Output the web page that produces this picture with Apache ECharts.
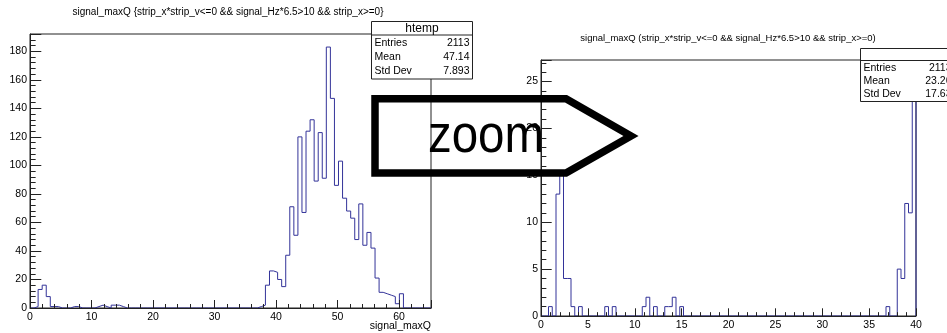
<!DOCTYPE html>
<html><head><meta charset="utf-8">
<script src="https://cdn.jsdelivr.net/npm/echarts@6/dist/echarts.min.js"></script>
<style>html,body{margin:0;padding:0;background:#fff}#c{width:947px;height:333px}</style>
</head><body><div id="c"></div>
<script>
// ---------- data ----------
const titleText = "signal_maxQ {strip_x*strip_v<=0 && signal_Hz*6.5>10 && strip_x>=0}";
const titleTextRight = "signal_maxQ (strip_x*strip_v<=0 && signal_Hz*6.5>10 && strip_x>=0)";
const xAxisTitle = "signal_maxQ";
const histName = "htemp";

// left histogram: 100 bins of width 0.66 starting at 0
const leftBinWidth = 0.66;
const leftCounts = [
  0,1,13,16,8,1,1,0,0,0,
  1,1,0,0,0,0,1,2,1,0,
  2,2,1,0,0,0,0,0,0,0,
  0,0,0,0,0,0,0,0,0,0,
  0,0,0,0,0,0,0,0,0,0,
  0,0,0,0,0,0,1,2,16,26,
  25,20,15,37,71,51,120,67,124,132,
  89,123,91,183,147,86,103,77,68,63,
  48,73,44,53,42,21,11,10,9,8,
  3,10,0,0,0,0,0,0,0,0
];
const leftStats = [["Entries","2113"],["Mean","47.14"],["Std Dev","7.893"]];

// right (zoomed) histogram: 100 bins of width 0.4 from 0 to 40
const rightBinWidth = 0.4;
const rightCounts = [
  0,0,1,0,13,15,4,4,1,0,
  1,0,0,0,0,0,0,1,0,1,
  0,0,0,0,0,0,0,1,2,0,
  1,0,0,1,1,2,0,1,0,0,
  0,0,0,0,0,0,0,0,0,0,
  0,0,0,0,0,0,0,0,0,0,
  0,0,0,0,0,0,0,0,0,0,
  0,0,0,0,0,0,0,0,0,0,
  0,0,0,0,0,0,0,0,0,0,
  0,0,1,0,0,5,4,12,11,26
];
const rightStats = [["Entries","2113"],["Mean","23.26"],["Std Dev","17.63"]];

const leftX = {min:0, max:65.2, interval:10};
const leftY = {min:0, max:192.15, interval:20};
const rightX = {min:0, max:40, interval:5};
const rightY = {min:0, max:27.3, interval:5};
const arrowLabel = "zoom";

// ---------- build ----------
function stepData(counts, w){
  const pts = [[0,0]];
  counts.forEach((c,i)=>{ pts.push([i*w,c]); pts.push([(i+1)*w,c]); });
  pts.push([counts.length*w,0]);
  return pts;
}
const FONT = "'Liberation Sans', Arial, Helvetica, sans-serif";
const AX = '#222';
function xAxisCfg(g, r, tickLen){
  return {type:'value', gridIndex:g, min:r.min, max:r.max, interval:r.interval, z:5,
    axisLine:{show:true, onZero:false, lineStyle:{color:AX, width:1}},
    axisTick:{show:true, inside:true, length:tickLen, lineStyle:{color:AX}},
    minorTick:{show:true, splitNumber:5, length:tickLen/2, lineStyle:{color:AX}},
    splitLine:{show:false}, minorSplitLine:{show:false},
    axisLabel:{color:'#000', fontSize:10.5, fontFamily:FONT, margin:4, showMaxLabel:(r.max % r.interval===0)}};
}
function yAxisCfg(g, r, tickLen){
  return {type:'value', gridIndex:g, min:r.min, max:r.max, interval:r.interval, z:5,
    axisLine:{show:true, onZero:false, lineStyle:{color:AX, width:1}},
    axisTick:{show:true, inside:true, length:tickLen, lineStyle:{color:AX}},
    minorTick:{show:true, splitNumber:5, length:tickLen/2, lineStyle:{color:AX}},
    splitLine:{show:false}, minorSplitLine:{show:false},
    axisLabel:{color:'#000', fontSize:10.5, fontFamily:FONT, margin:3, showMaxLabel:false}};
}
function txt(x,y,text,size,align,extra){
  return Object.assign({type:'text', x:x, y:y, z:20, silent:true,
    style:{text:text, x:0, y:0, fill:'#000', font:size+'px '+FONT, textAlign:align||'center', textVerticalAlign:'middle'}}, extra||{});
}
function statsBox(x0, y0, w, headH, rowH, stats, headText, headSize, rowSize){
  const h = headH + rowH*stats.length + 2;
  const els = [
    {type:'rect', z:15, silent:true, shape:{x:x0, y:y0, width:w, height:h}, style:{fill:'#fff', stroke:AX, lineWidth:1}},
    {type:'line', z:16, silent:true, shape:{x1:x0, y1:y0+headH, x2:x0+w, y2:y0+headH}, style:{stroke:AX, lineWidth:1}}
  ];
  if (headText) els.push(txt(x0+w/2, y0+headH/2+0.5, headText, headSize, 'center'));
  stats.forEach((s,i)=>{
    const yy = y0 + headH + rowH*(i+0.5) + 1;
    els.push(txt(x0+3, yy, s[0], rowSize, 'left'));
    els.push(txt(x0+w-3, yy, s[1], rowSize, 'right'));
  });
  return els;
}

const graphics = [
  txt(228, 12, titleText, 10, 'center'),
  txt(728, 38.5, titleTextRight, 9.5, 'center'),
  txt(431, 326, xAxisTitle, 10.5, 'right'),
  ...statsBox(371.5, 21.5, 101, 13.5, 14, leftStats, histName, 12, 10.5),
  ...statsBox(860.5, 48.5, 94, 12, 13, rightStats, '', 11, 10.5),
  {type:'polygon', z:30, silent:true,
   shape:{points:[[375,98.8],[566,98.8],[631,136],[566,173],[375,173]]},
   style:{fill:'none', stroke:'#000', lineWidth:7.5, lineJoin:'miter'}},
  {type:'text', z:31, silent:true, x:486, y:137, scaleX:0.88, scaleY:1,
   style:{text:arrowLabel, x:0, y:0, fill:'#000', font:'54px '+FONT, textAlign:'center', textVerticalAlign:'middle'}}
];

const chart = echarts.init(document.getElementById('c'), null, {renderer:'canvas'});
chart.setOption({
  animation:false,
  backgroundColor:'#fff',
  grid:[
    {left:30, top:34, width:401, height:274, show:true, borderColor:AX, borderWidth:1, backgroundColor:'transparent', containLabel:false, outerBoundsMode:'none'},
    {left:541, top:60, width:375, height:256, show:true, borderColor:AX, borderWidth:1, backgroundColor:'transparent', containLabel:false, outerBoundsMode:'none'}
  ],
  xAxis:[xAxisCfg(0,leftX,8), xAxisCfg(1,rightX,7.7)],
  yAxis:[yAxisCfg(0,leftY,11.3), yAxisCfg(1,rightY,10.7)],
  series:[
    {type:'line', xAxisIndex:0, yAxisIndex:0, data:stepData(leftCounts,leftBinWidth), showSymbol:false, symbol:'none', z:1,
     lineStyle:{color:'#333399', width:1}, clip:true},
    {type:'line', xAxisIndex:1, yAxisIndex:1, data:stepData(rightCounts,rightBinWidth), showSymbol:false, symbol:'none', z:1,
     lineStyle:{color:'#333399', width:1}, clip:true}
  ],
  graphic:graphics
});
</script></body></html>
